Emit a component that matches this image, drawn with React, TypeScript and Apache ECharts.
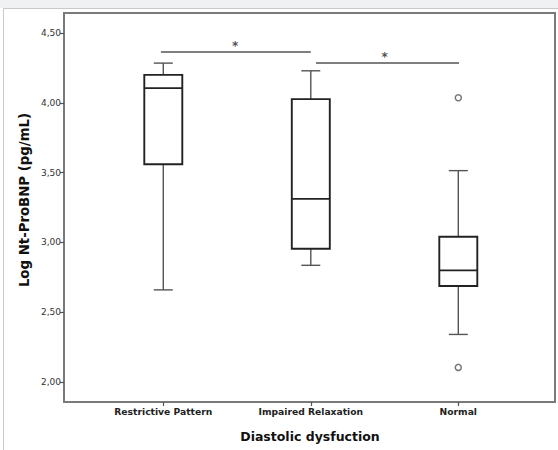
import React, { useEffect, useRef } from "react";
import * as echarts from "echarts";

const categories = ["Restrictive Pattern", "Impaired Relaxation", "Normal"];
const categoryPositions = [1, 2, 3];
// [min, Q1, median, Q3, max]
const boxStats = [
  [2.66, 3.56, 4.105, 4.2, 4.284],
  [2.836, 2.955, 3.312, 4.026, 4.229],
  [2.341, 2.688, 2.8, 3.041, 3.514],
];
const outliers = [
  [3, 4.036],
  [3, 2.105],
];
// significance bars: [xStart, xEnd, y] in category-position units
const sigBars = [
  [0.984, 2.0, 4.364],
  [2.035, 3.005, 4.284],
];
const sigStars = [
  [1.487, 4.4286],
  [2.5, 4.35],
];
const yTickValues = [2, 2.5, 3, 3.5, 4, 4.5];
const yTitle = "Log Nt-ProBNP (pg/mL)";
const xTitle = "Diastolic dysfuction";

export default function App() {
  const ref = useRef<HTMLDivElement>(null);
  useEffect(() => {
    if (!ref.current) return;
    const chart = echarts.init(ref.current, undefined, { renderer: "svg" });
    const FONT = "DejaVu Sans";
    const boxData = boxStats.map((s, i) => [categoryPositions[i], ...s]);
    const option: any = {
      animation: false,
      backgroundColor: "#ffffff",
      grid: {
        left: 64,
        top: 13,
        width: 491,
        height: 389,
        show: true,
        borderColor: "#7a7a7a",
        borderWidth: 2,
        backgroundColor: "transparent",
      },
      xAxis: {
        type: "value",
        min: 0.3268,
        max: 3.6556,
        axisLine: { show: true, lineStyle: { color: "#7a7a7a", width: 2 } },
        axisTick: { show: true, customValues: categoryPositions, length: 4, lineStyle: { color: "#555", width: 1.2 } },
        axisLabel: {
          customValues: categoryPositions,
          formatter: (v: number) => categories[Math.round(v) - 1] ?? "",
          fontSize: 9.2,
          fontWeight: "bold",
          color: "#222",
          margin: 5,
          fontFamily: FONT,
        },
        splitLine: { show: false },
      },
      yAxis: {
        type: "value",
        min: 1.857143,
        max: 4.642857,
        axisLine: { show: true, lineStyle: { color: "#7a7a7a", width: 2 } },
        axisTick: { show: true, customValues: yTickValues, length: 4, lineStyle: { color: "#555", width: 1.2 } },
        axisLabel: {
          customValues: yTickValues,
          fontSize: 9,
          color: "#333",
          margin: 3,
          fontFamily: FONT,
          formatter: (v: number) => v.toFixed(2).replace(".", ","),
        },
        splitLine: { show: false },
      },
      graphic: [
        { type: "rect", shape: { x: 0, y: 0, width: 558, height: 8 }, style: { fill: "#eff1f3" }, z: -10 },
        { type: "rect", shape: { x: 3.5, y: 8.5, width: 600, height: 500 }, style: { fill: "none", stroke: "#c8c8c8", lineWidth: 1 }, z: -9 },
        {
          type: "text",
          x: 24,
          y: 200,
          rotation: Math.PI / 2,
          style: { text: yTitle, fontSize: 13.3, fontWeight: "bold", fontFamily: FONT, fill: "#111", textAlign: "center", textVerticalAlign: "middle" },
        },
        {
          type: "text",
          x: 310,
          y: 436,
          style: { text: xTitle, fontSize: 12.5, fontWeight: "bold", fontFamily: FONT, fill: "#111", textAlign: "center", textVerticalAlign: "middle" },
        },
      ],
      series: [
        {
          type: "custom",
          data: boxData,
          encode: { x: 0, y: [1, 2, 3, 4, 5] },
          renderItem: (params: any, api: any) => {
            const pos = api.value(0);
            const pMin = api.coord([pos, api.value(1)]);
            const pQ1 = api.coord([pos, api.value(2)]);
            const pMed = api.coord([pos, api.value(3)]);
            const pQ3 = api.coord([pos, api.value(4)]);
            const pMax = api.coord([pos, api.value(5)]);
            const cx = pMed[0];
            const bw = 38;
            const cw = 19;
            const wStyle = { stroke: "#555", lineWidth: 1.4, fill: "none" };
            const bStyle = { stroke: "#222", lineWidth: 1.9, fill: "#fff" };
            return {
              type: "group",
              children: [
                { type: "line", shape: { x1: cx, y1: pMax[1], x2: cx, y2: pQ3[1] }, style: wStyle },
                { type: "line", shape: { x1: cx, y1: pQ1[1], x2: cx, y2: pMin[1] }, style: wStyle },
                { type: "line", shape: { x1: cx - cw / 2, y1: pMax[1], x2: cx + cw / 2, y2: pMax[1] }, style: wStyle },
                { type: "line", shape: { x1: cx - cw / 2, y1: pMin[1], x2: cx + cw / 2, y2: pMin[1] }, style: wStyle },
                { type: "rect", shape: { x: cx - bw / 2, y: pQ3[1], width: bw, height: pQ1[1] - pQ3[1] }, style: bStyle },
                { type: "line", shape: { x1: cx - bw / 2, y1: pMed[1], x2: cx + bw / 2, y2: pMed[1] }, style: { stroke: "#222", lineWidth: 1.9 } },
              ],
            };
          },
          z: 5,
        },
        {
          type: "scatter",
          data: outliers,
          symbol: "circle",
          symbolSize: 6,
          itemStyle: { color: "#fff", borderColor: "#555", borderWidth: 1.5 },
          z: 6,
        },
        ...sigBars.map((b) => ({
          type: "line",
          data: [
            [b[0], b[2]],
            [b[1], b[2]],
          ],
          symbol: "none",
          lineStyle: { color: "#555", width: 1.5 },
          z: 6,
        })),
        {
          type: "scatter",
          data: sigStars,
          symbolSize: 1,
          itemStyle: { color: "rgba(0,0,0,0)" },
          label: {
            show: true,
            position: "inside",
            formatter: "*",
            fontSize: 12,
            fontWeight: "bold",
            color: "#222",
            fontFamily: FONT,
            offset: [0, 3],
          },
          z: 7,
        },
      ],
    };
    chart.setOption(option);
    return () => chart.dispose();
  }, []);
  return <div ref={ref} style={{ position: "absolute", left: 0, top: 0, width: 558, height: 450 }} />;
}
